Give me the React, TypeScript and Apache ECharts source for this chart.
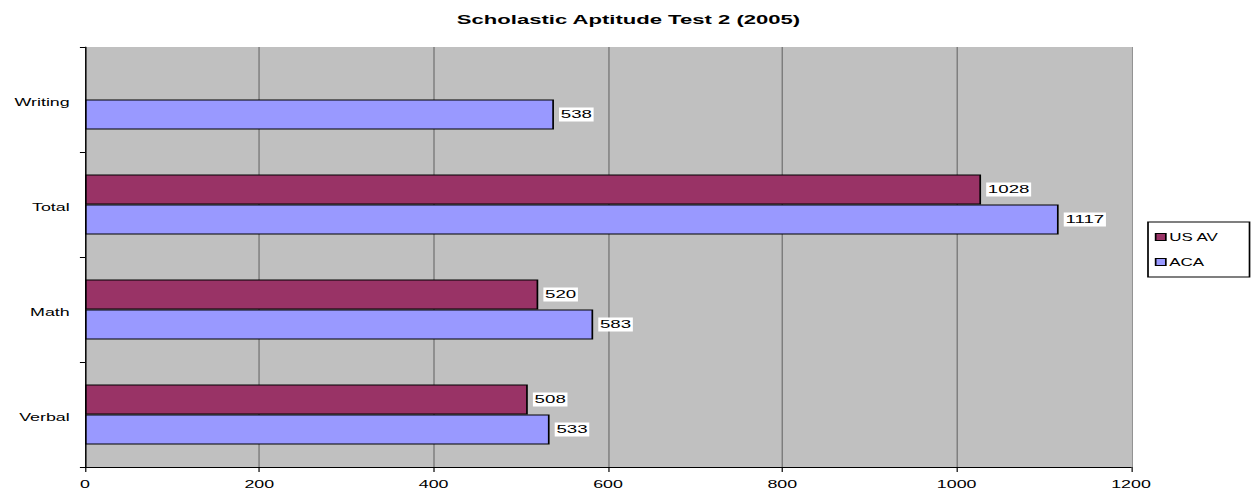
import React, { useEffect, useRef } from "react";
import * as echarts from "echarts";

const categories = ["Verbal", "Math", "Total", "Writing"];
const usAv: (number | null)[] = [508, 520, 1028, null];
const aca: number[] = [533, 583, 1117, 538];
const xTicks = { min: 0, max: 1200, interval: 200 };

// the reference is horizontally stretched; draw at a narrower width and stretch
const PAGE_W = 1257;
const BASE_W = 740;
const SX = PAGE_W / BASE_W;

export default function App() {
  const ref = useRef<HTMLDivElement>(null);
  useEffect(() => {
    if (!ref.current) return;
    const chart = echarts.init(ref.current, null, { renderer: "svg" });
    const font = "'Liberation Sans', Arial, sans-serif";
    const label = {
      show: true,
      position: "right",
      distance: 3,
      color: "#000",
      fontFamily: font,
      fontSize: 11,
      backgroundColor: "#fff",
      padding: [2, 1, 1, 1],
    };
    chart.setOption({
      animation: false,
      backgroundColor: "#fff",
      title: {
        text: "Scholastic Aptitude Test 2 (2005)",
        left: "center",
        top: 8,
        textStyle: { fontFamily: font, fontSize: 13, fontWeight: "bold", color: "#000" },
      },
      legend: {
        orient: "vertical",
        left: 1148 / SX,
        top: 222,
        data: ["US AV", "ACA"],
        borderColor: "#000",
        borderWidth: 1,
        padding: [10, 18, 10, 4],
        itemGap: 15,
        itemWidth: 6,
        itemHeight: 7,
        icon: "rect",
        textStyle: { fontFamily: font, fontSize: 10, color: "#000", padding: [0, 0, 0, -3] },
        itemStyle: { borderColor: "#000", borderWidth: 1 },
      },
      grid: {
        left: 85 / SX,
        right: BASE_W - 1131 / SX,
        top: 47,
        bottom: 27,
        show: true,
        backgroundColor: "#c0c0c0",
        borderWidth: 0,
      },
      xAxis: {
        type: "value",
        min: xTicks.min,
        max: xTicks.max,
        interval: xTicks.interval,
        axisLine: { show: true, lineStyle: { color: "#000", width: 1 } },
        axisTick: { show: true, length: 5, lineStyle: { color: "#000", width: 0.7 } },
        axisLabel: {
          fontFamily: font,
          fontSize: 10.5,
          color: "#000",
          margin: 12,
          formatter: (v: number) => String(v),
        },
        splitLine: { show: true, lineStyle: { color: "#6e6e6e", width: 0.7 } },
      },
      yAxis: {
        type: "category",
        data: categories,
        axisLine: { show: true, lineStyle: { color: "#000", width: 0.8 } },
        axisTick: { show: true, length: 3, lineStyle: { color: "#000" } },
        axisLabel: {
          margin: 9,
          formatter: (v: string) => `{c|${v}}`,
          rich: {
            c: { fontFamily: font, fontSize: 10.5, color: "#000", padding: [5, 0, 0, 0] },
          },
        },
      },
      series: [
        {
          name: "US AV",
          type: "bar",
          data: usAv,
          barWidth: 30,
          barGap: "0%",
          itemStyle: { color: "#993366", borderColor: "#000", borderWidth: 1 },
          label,
        },
        {
          name: "ACA",
          type: "bar",
          data: aca,
          barWidth: 30,
          barGap: "0%",
          itemStyle: { color: "#9999ff", borderColor: "#000", borderWidth: 1 },
          label,
        },
      ],
    });
    return () => chart.dispose();
  }, []);
  return (
    <div
      ref={ref}
      style={{
        width: BASE_W,
        height: 494,
        position: "absolute",
        left: 0,
        top: 0,
        transform: `scaleX(${SX})`,
        transformOrigin: "0 0",
      }}
    />
  );
}
